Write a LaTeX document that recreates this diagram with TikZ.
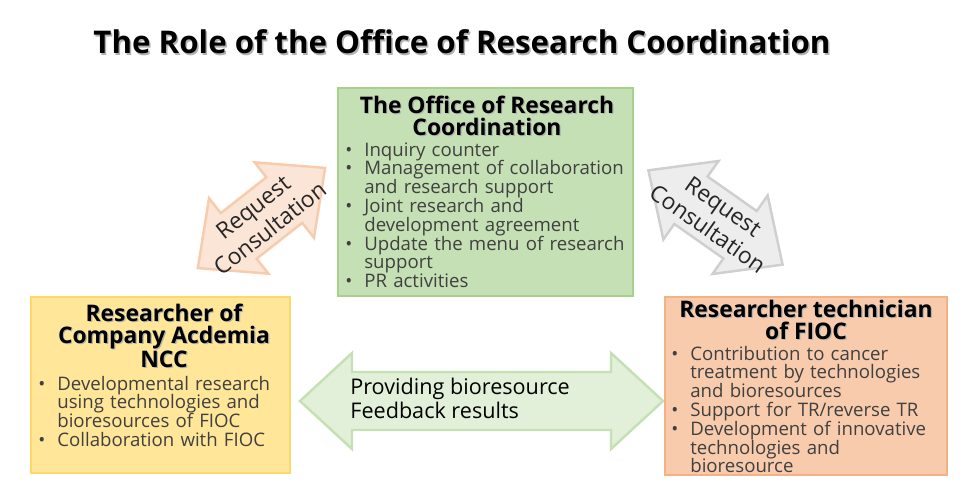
\documentclass[tikz,border=0pt]{standalone}
\usepackage{fontspec}
\setmainfont{Open Sans}
\usetikzlibrary{calc}
\definecolor{offfill}{HTML}{C5E0B4}
\definecolor{offline}{HTML}{A9D18E}
\definecolor{acafill}{HTML}{FFE699}
\definecolor{acaline}{HTML}{FFD966}
\definecolor{fiocfill}{HTML}{F8CBAD}
\definecolor{fiocline}{HTML}{F4B183}
\definecolor{resfill}{HTML}{E2F0D9}
\definecolor{resline}{HTML}{C5E0B4}
\definecolor{reqfill}{HTML}{FBE5D6}
\definecolor{reqline}{HTML}{F8CBAD}
\definecolor{grayfill}{HTML}{EDEDED}
\definecolor{grayline}{HTML}{D0CECE}
\definecolor{inkc}{HTML}{404040}

\newcommand{\bul}[1]{\par\hangindent=0.38cm\hangafter=1\noindent\makebox[0.38cm][l]{\textbullet}#1\par}

\tikzset{
  panel/.style={line width=1.4pt, anchor=north west, inner sep=0pt},
  paneltitle/.style={font=\fontsize{13}{12.5}\selectfont\bfseries, align=center, inner sep=0pt},
  panellist/.style={text=inkc, align=left, inner sep=0pt, anchor=north west},
  arrowtext/.style={font=\fontsize{13}{15.5}\selectfont, align=center, inner sep=0pt},
  pics/dblarrow/.style n args={3}{code={
    \filldraw[fill=#2, draw=#3, line width=1.4pt]
      (-#1,0) -- (-#1+52,-48) -- (-#1+52,-29) -- (#1-52,-29) -- (#1-52,-48)
      -- (#1,0) -- (#1-52,48) -- (#1-52,29) -- (-#1+52,29) -- (-#1+52,48) -- cycle;
  }}
}

\begin{document}
\begin{tikzpicture}[x=0.02cm, y=-0.02cm, font=\fontsize{10.6}{10.7}\selectfont]
  \useasboundingbox (0,0) rectangle (960,500);

  % heading, with its soft shadow
  \foreach \c/\o in {black!30/1.5, black/0}{
    \node[font=\fontsize{17.8}{20}\selectfont\bfseries, text=\c, inner sep=0pt]
      (heading) at (462+\o,42+\o) {The Role of the Office of Research Coordination};
  }

  % block arrows
  \pic[rotate=38.2] at (261.5,218) {dblarrow={81}{reqfill}{reqline}};
  \pic[rotate=-35.1] at (715.5,217.5) {dblarrow={82}{grayfill}{grayline}};
  \pic at (481.5,401) {dblarrow={181.5}{resfill}{resline}};

  \node[arrowtext, rotate=38.2, text=black!85] (reqleft) at (261.5,218) {Request\\Consultation};
  \node[arrowtext, rotate=-35.1, text=black!85] (reqright) at (715.5,217.5) {Request\\Consultation};
  \node[arrowtext, font=\fontsize{12.3}{13.6}\selectfont, align=left, anchor=west] (provide)
    at (350,398) {Providing bioresource\\Feedback results};

  % the three panels
  \node[panel, fill=offfill, draw=offline, minimum width=5.9cm, minimum height=4.16cm]
    (office) at (337,87) {};
  \node[panel, fill=acafill, draw=acaline, minimum width=5.18cm, minimum height=3.52cm]
    (academia) at (30,296) {};
  \node[panel, fill=fiocfill, draw=fiocline, minimum width=5.64cm, minimum height=3.56cm]
    (fioc) at (664,296) {};

  % panel titles
  \foreach \c/\o in {black!30/1.2, black/0}{
    \node[paneltitle, text=\c] (officetitle) at (487+\o,116+\o)
      {The Office of Research\\Coordination};
    \node[paneltitle, text=\c] (academiatitle) at (164+\o,335.5+\o)
      {Researcher of\\Company Acdemia\\NCC};
    \node[paneltitle, text=\c] (fioctitle) at (806+\o,319.5+\o)
      {Researcher technician\\of FIOC};
  }

  % panel bullets
  \node[panellist, text width=5.8cm] (officelist) at (345,137) {%
    \bul{Inquiry counter}
    \bul{Management of collaboration\newline and research support}
    \bul{Joint research and\newline development agreement}
    \bul{Update the menu of research\newline support}
    \bul{PR activities}};
  \node[panellist, text width=5.1cm] (academialist) at (38,371) {%
    \bul{Developmental research\newline using technologies and\newline bioresources of FIOC}
    \bul{Collaboration with FIOC}};
  \node[panellist, text width=5.5cm] (fioclist) at (671,341) {%
    \bul{Contribution to cancer\newline treatment by technologies\newline and bioresources}
    \bul{Support for TR/reverse TR}
    \bul{Development of innovative\newline technologies and\newline bioresource}};
\end{tikzpicture}
\end{document}
